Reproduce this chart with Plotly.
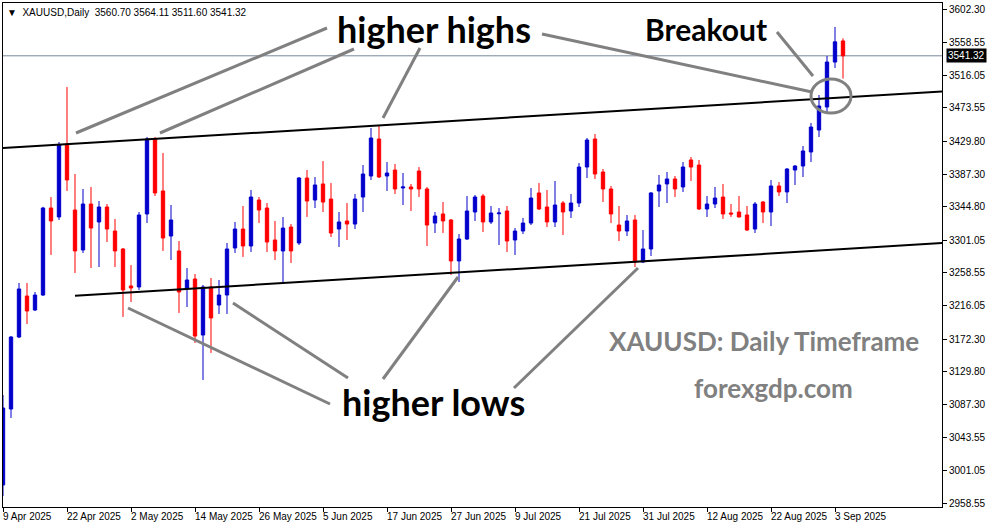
import plotly.graph_objects as go

# ---------------- data ----------------
bars = list(range(106))
open_ = [2982.1, 3081.1, 3174.9, 3228.3, 3210.1, 3229.6, 3343.0, 3331.3, 3426.4, 3340.4,
         3288.3, 3348.2, 3324.8, 3344.3, 3313.0, 3289.6, 3241.4, 3240.1, 3335.2, 3432.9,
         3365.2, 3306.5, 3287.0, 3237.5, 3250.5, 3177.5, 3240.1, 3216.6, 3229.6, 3290.9,
         3315.6, 3293.5, 3353.4, 3343.0, 3301.3, 3287.0, 3318.2, 3297.4, 3382.1, 3353.4,
         3374.3, 3354.7, 3315.6, 3326.1, 3322.1, 3357.3, 3384.7, 3432.9, 3384.7, 3392.5,
         3369.1, 3370.4, 3391.2, 3367.8, 3323.4, 3335.2, 3327.4, 3274.0, 3302.6, 3337.8,
         3358.6, 3324.8, 3335.5, 3339.1, 3301.3, 3313.0, 3323.4, 3362.6, 3344.3, 3324.8,
         3349.5, 3339.1, 3349.5, 3396.4, 3432.9, 3389.9, 3367.8, 3320.8, 3313.0, 3327.4,
         3272.6, 3289.6, 3365.2, 3374.3, 3380.8, 3370.4, 3405.6, 3399.0, 3341.7, 3348.2,
         3357.3, 3336.5, 3337.8, 3333.9, 3315.6, 3350.8, 3337.8, 3371.7, 3363.9, 3392.5,
         3397.7, 3416.0, 3444.6, 3474.6, 3533.2, 3560.70]
high = [3099.3, 3176.2, 3245.3, 3245.3, 3233.6, 3344.5, 3357.3, 3429.0, 3500.7, 3387.3,
        3367.8, 3370.4, 3352.1, 3348.2, 3328.7, 3290.9, 3268.7, 3337.8, 3435.5, 3435.5,
        3414.7, 3346.9, 3300.0, 3264.8, 3257.0, 3242.7, 3251.8, 3249.2, 3297.4, 3324.8,
        3345.6, 3366.5, 3357.3, 3349.5, 3326.1, 3331.3, 3322.1, 3383.4, 3392.5, 3383.4,
        3404.2, 3375.6, 3337.8, 3349.5, 3361.3, 3399.0, 3447.2, 3449.9, 3402.9, 3400.3,
        3388.6, 3374.3, 3396.4, 3370.4, 3337.8, 3350.8, 3328.7, 3309.1, 3358.6, 3360.0,
        3361.3, 3345.6, 3343.0, 3345.6, 3316.9, 3330.0, 3369.1, 3375.6, 3366.5, 3378.2,
        3352.1, 3361.3, 3401.6, 3434.2, 3439.4, 3393.8, 3371.7, 3345.6, 3333.9, 3333.9,
        3314.3, 3363.9, 3386.0, 3389.9, 3384.7, 3402.9, 3409.5, 3405.6, 3358.6, 3370.4,
        3374.3, 3348.2, 3358.6, 3345.6, 3350.8, 3352.1, 3379.5, 3376.9, 3395.1, 3399.0,
        3423.8, 3453.8, 3490.2, 3541.1, 3578.9, 3564.11]
low = [2967.7, 3069.4, 3173.5, 3191.9, 3208.8, 3228.3, 3281.8, 3327.4, 3365.2, 3258.3,
       3284.4, 3264.8, 3266.1, 3298.7, 3266.1, 3201.0, 3220.5, 3236.2, 3323.4, 3358.6,
       3287.0, 3275.3, 3206.2, 3214.0, 3167.1, 3118.9, 3154.1, 3204.9, 3204.9, 3284.4,
       3279.2, 3285.7, 3323.4, 3285.7, 3275.3, 3245.3, 3271.3, 3294.8, 3331.3, 3343.0,
       3337.8, 3305.2, 3292.2, 3301.3, 3315.6, 3337.8, 3379.5, 3382.1, 3365.2, 3361.3,
       3346.9, 3339.1, 3357.3, 3293.5, 3310.4, 3310.4, 3255.7, 3246.6, 3301.3, 3326.1,
       3311.7, 3322.1, 3294.8, 3285.7, 3281.8, 3309.1, 3320.8, 3340.4, 3318.2, 3318.2,
       3307.8, 3330.0, 3344.3, 3382.1, 3380.8, 3350.8, 3323.4, 3300.0, 3306.5, 3266.1,
       3271.5, 3280.5, 3344.3, 3349.5, 3357.3, 3363.9, 3378.2, 3340.4, 3331.3, 3343.0,
       3328.7, 3331.3, 3330.8, 3313.0, 3310.4, 3323.4, 3319.5, 3358.6, 3349.5, 3373.0,
       3383.4, 3402.9, 3435.5, 3468.1, 3525.4, 3511.60]
close = [3082.4, 3174.9, 3237.5, 3208.8, 3229.6, 3343.0, 3326.1, 3425.1, 3379.5, 3287.0,
         3348.2, 3316.9, 3344.3, 3315.6, 3287.0, 3236.2, 3238.8, 3333.9, 3432.9, 3362.6,
         3303.9, 3327.4, 3233.6, 3249.2, 3176.2, 3240.1, 3199.7, 3229.6, 3289.6, 3315.6,
         3293.5, 3357.3, 3340.4, 3298.7, 3287.0, 3316.9, 3287.0, 3382.1, 3352.1, 3373.0,
         3350.8, 3310.4, 3324.8, 3322.1, 3354.7, 3387.3, 3434.2, 3383.4, 3388.6, 3367.8,
         3370.4, 3367.8, 3367.8, 3320.8, 3332.6, 3326.1, 3274.0, 3302.6, 3339.1, 3357.3,
         3324.8, 3336.5, 3336.5, 3300.0, 3313.0, 3323.4, 3356.0, 3341.7, 3324.8, 3346.9,
         3337.8, 3349.5, 3396.4, 3431.6, 3387.3, 3367.8, 3335.2, 3313.0, 3326.1, 3272.6,
         3289.6, 3362.6, 3373.0, 3380.8, 3367.8, 3396.4, 3396.4, 3341.7, 3348.2, 3356.0,
         3335.2, 3335.2, 3331.3, 3314.3, 3348.2, 3337.8, 3371.7, 3363.9, 3393.8, 3397.7,
         3417.3, 3448.5, 3475.9, 3533.2, 3559.5, 3541.32]

date_tick_bars = [0, 8, 16, 24, 32, 40, 48, 56, 64, 72, 80, 88, 96, 104]
date_tick_labels = ["9 Apr 2025", "22 Apr 2025", "2 May 2025", "14 May 2025", "26 May 2025",
                    "5 Jun 2025", "17 Jun 2025", "27 Jun 2025", "9 Jul 2025", "21 Jul 2025",
                    "31 Jul 2025", "12 Aug 2025", "22 Aug 2025", "3 Sep 2025"]
price_ticks = [3602.30, 3558.55, 3516.05, 3473.55, 3429.80, 3387.30, 3344.80, 3301.05,
               3258.55, 3216.05, 3172.30, 3129.80, 3087.30, 3043.55, 3001.05, 2958.55]
last_price = 3541.32

# channel trend lines (bar index, price)
upper_channel_x = [0, 117.4]
upper_channel_y = [3421.2, 3494.8]
lower_channel_x = [9, 117.4]
lower_channel_y = [3228.7, 3297.3]

# ---------------- layout geometry ----------------
W, H = 991, 528
PL, PR, PT, PB = 3, 942, 3, 507


def px(x, y):
    return (x - PL) / (PR - PL), (PB - y) / (PB - PT)


BLUE = "#0000CD"
RED = "#FF0000"
GRAY = "#808080"

fig = go.Figure()
fig.add_trace(go.Candlestick(
    x=bars, open=open_, high=high, low=low, close=close,
    increasing=dict(line=dict(color=BLUE, width=1), fillcolor=BLUE),
    decreasing=dict(line=dict(color=RED, width=1), fillcolor=RED),
    whiskerwidth=0, showlegend=False, hoverinfo="skip",
))

shapes = []
# current price line
shapes.append(dict(type="line", xref="paper", yref="y", x0=0, x1=1, y0=last_price, y1=last_price,
                   line=dict(color="#778899", width=1), layer="below"))
# channel lines
shapes.append(dict(type="line", xref="x", yref="y", x0=upper_channel_x[0], x1=upper_channel_x[1],
                   y0=upper_channel_y[0], y1=upper_channel_y[1], line=dict(color="black", width=2)))
shapes.append(dict(type="line", xref="x", yref="y", x0=lower_channel_x[0], x1=lower_channel_x[1],
                   y0=lower_channel_y[0], y1=lower_channel_y[1], line=dict(color="black", width=2)))

# gray pointer lines (pixel positions in the picture)
pointers = [
    ((76, 133), (327, 28)),
    ((160, 133), (354, 49)),
    ((383, 118), (420, 48)),
    ((542, 34), (812, 92)),
    ((777, 32), (813, 76)),
    ((128, 308), (330, 404)),
    ((233, 303), (348, 378)),
    ((458, 277), (383, 379)),
    ((638, 268), (514, 388)),
]
for (a, b) in pointers:
    x0, y0 = px(*a)
    x1, y1 = px(*b)
    shapes.append(dict(type="line", xref="paper", yref="paper", x0=x0, y0=y0, x1=x1, y1=y1,
                       line=dict(color=GRAY, width=3)))
ex0, ey0 = px(811, 113)
ex1, ey1 = px(851, 79)
shapes.append(dict(type="circle", xref="paper", yref="paper", x0=ex0, y0=ey0, x1=ex1, y1=ey1,
                   line=dict(color=GRAY, width=3)))

annotations = []
# header
annotations.append(dict(xref="paper", yref="paper", x=0, y=1, xanchor="left", yanchor="top",
                        xshift=2, yshift=-2, showarrow=False,
                        text="\u25bc  XAUUSD,Daily  3560.70 3564.11 3511.60 3541.32",
                        font=dict(family="Liberation Sans, DejaVu Sans", size=10, color="black")))
# date labels, left aligned at their ticks
for b, lab in zip(date_tick_bars, date_tick_labels):
    annotations.append(dict(xref="x", yref="paper", x=b, y=0, xanchor="left", yanchor="top",
                            xshift=-2, yshift=-2, showarrow=False, text=lab,
                            font=dict(family="Liberation Sans", size=10, color="black")))
# last price box
annotations.append(dict(xref="paper", yref="y", x=1, y=last_price, xanchor="left", yanchor="middle",
                        xshift=4, showarrow=False, text=f"{last_price:.2f}", bgcolor="black",
                        borderpad=1, font=dict(family="Liberation Sans", size=10, color="white")))


def label(text, cx, cy, size, color="black"):
    x, y = px(cx, cy)
    annotations.append(dict(xref="paper", yref="paper", x=x, y=y, xanchor="center", yanchor="middle",
                            showarrow=False, text=f"<b>{text}</b>",
                            font=dict(family="Lato", size=size, color=color)))


label("higher highs", 434, 29, 36)
label("Breakout", 706, 29, 30)
label("higher lows", 433, 402, 36)
label("XAUUSD: Daily Timeframe", 764, 341, 26, GRAY)
label("forexgdp.com", 773, 388, 26, GRAY)

fig.update_layout(
    width=W, height=H,
    margin=dict(l=PL, r=W - PR, t=PT, b=H - PB),
    paper_bgcolor="white", plot_bgcolor="white",
    showlegend=False, boxgap=0.4,
    shapes=shapes, annotations=annotations,
    xaxis=dict(range=[0, (PR - PL) / 8], rangeslider=dict(visible=False), showgrid=False,
               zeroline=False, tickmode="array", tickvals=date_tick_bars, showticklabels=False,
               ticks="outside", ticklen=4, tickcolor="black", showline=True, linecolor="black",
               linewidth=1, mirror=True),
    yaxis=dict(range=[3614.03 - 1.303 * PB, 3614.03 - 1.303 * PT], side="right",
               showgrid=False, zeroline=False, tickmode="array", tickvals=price_ticks,
               ticktext=[f"{v:.2f}" for v in price_ticks], ticks="outside", ticklen=4,
               tickcolor="black", showline=True, linecolor="black", linewidth=1, mirror=True,
               tickfont=dict(family="Liberation Sans", size=10, color="black")),
)

fig.write_html("out.html", config={"displayModeBar": False},
               post_script="document.body.style.margin='0';document.body.style.padding='0';")
